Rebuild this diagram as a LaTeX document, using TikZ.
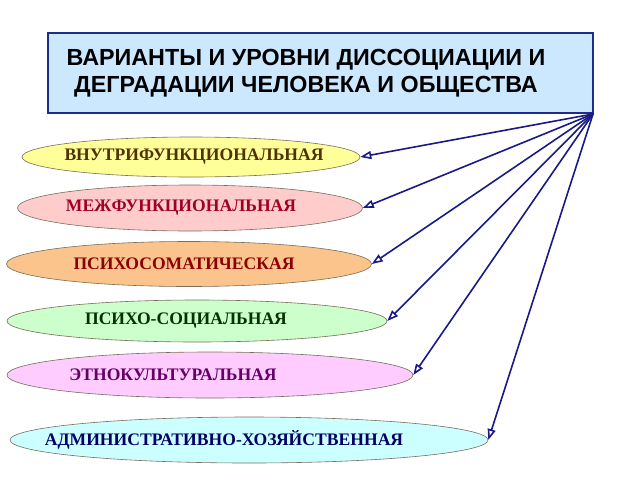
\documentclass[tikz,border=0pt]{standalone}
\usepackage{fontspec}
\setmainfont{Liberation Serif}
\newfontfamily\headfont{Liberation Sans}
\usepackage{tikz}
\usetikzlibrary{shapes.geometric, arrows.meta}
\definecolor{headfill}{RGB}{204,232,255}
\definecolor{headline}{RGB}{30,45,140}
\definecolor{linkblue}{RGB}{25,25,135}
\definecolor{ovalline}{RGB}{120,110,90}

\begin{document}
\begin{tikzpicture}[x=1pt, y=-1pt,
    oval/.style={ellipse, draw=ovalline, line width=0.6pt, inner sep=0pt},
    lbl/.style={font=\bfseries\fontsize{17.6}{20}\selectfont},
    link/.style={draw=linkblue, line width=1.6pt, -{Triangle[open, length=11pt, width=8pt]}}]
    \useasboundingbox (0,0) rectangle (640,480);
    \node[draw=headline, line width=1.5pt, fill=headfill, minimum width=545pt, minimum height=80pt] (head) at (320.5,73) {};
    \node[align=center, font=\headfont\bfseries\fontsize{23.3}{27}\selectfont] (headtext) at (306,73)
        {ВАРИАНТЫ И УРОВНИ ДИССОЦИАЦИИ И\\ДЕГРАДАЦИИ ЧЕЛОВЕКА И ОБЩЕСТВА};
    \coordinate (hub) at (593,114);
    \node[oval, fill={rgb,255:red,255;green,255;blue,153}, minimum width=338pt, minimum height=40pt] (e1) at (191,157) {};
    \node[lbl, text={rgb,255:red,80;green,50;blue,0}] (t1) at (194,157) {ВНУТРИФУНКЦИОНАЛЬНАЯ};
    \node[oval, fill={rgb,255:red,255;green,204;blue,204}, minimum width=345pt, minimum height=46pt] (e2) at (190,208) {};
    \node[lbl, text={rgb,255:red,160;green,0;blue,40}] (t2) at (181,208) {МЕЖФУНКЦИОНАЛЬНАЯ};
    \node[oval, fill={rgb,255:red,250;green,196;blue,140}, minimum width=365pt, minimum height=45pt] (e3) at (189,264) {};
    \node[lbl, text={rgb,255:red,140;green,0;blue,0}] (t3) at (184,264) {ПСИХОСОМАТИЧЕСКАЯ};
    \node[oval, fill={rgb,255:red,204;green,255;blue,204}, minimum width=380pt, minimum height=42pt] (e4) at (197,321) {};
    \node[lbl, text={rgb,255:red,0;green,51;blue,0}] (t4) at (186,321) {ПСИХО-СОЦИАЛЬНАЯ};
    \node[oval, fill={rgb,255:red,255;green,204;blue,255}, minimum width=406pt, minimum height=46pt] (e5) at (210,375) {};
    \node[lbl, text={rgb,255:red,102;green,0;blue,102}] (t5) at (173,375) {ЭТНОКУЛЬТУРАЛЬНАЯ};
    \node[oval, fill={rgb,255:red,204;green,255;blue,255}, minimum width=478pt, minimum height=46pt] (e6) at (249,440) {};
    \node[lbl, text={rgb,255:red,0;green,0;blue,102}] (t6) at (224,440) {АДМИНИСТРАТИВНО-ХОЗЯЙСТВЕННАЯ};
    \draw[link] (hub) -- (e1.east);
    \draw[link] (hub) -- (e2.east);
    \draw[link] (hub) -- (e3.east);
    \draw[link] (hub) -- (e4.east);
    \draw[link] (hub) -- (e5.east);
    \draw[link] (hub) -- (e6.east);
\end{tikzpicture}
\end{document}
